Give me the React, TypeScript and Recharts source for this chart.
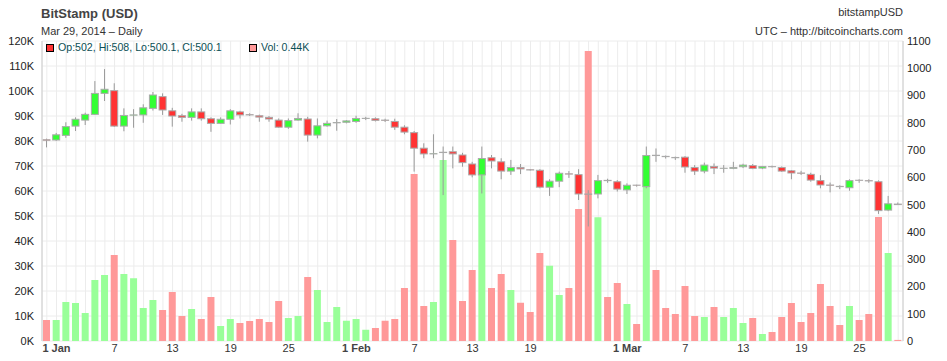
import React from 'react';
import { ComposedChart, Bar, Cell, XAxis, YAxis, CartesianGrid } from 'recharts';

// one row per day, 31 Dec 2013 .. 29 Mar 2014
const days = [
  '12-31',
  '01-01', '01-02', '01-03', '01-04', '01-05', '01-06', '01-07', '01-08', '01-09', '01-10',
  '01-11', '01-12', '01-13', '01-14', '01-15', '01-16', '01-17', '01-18', '01-19', '01-20',
  '01-21', '01-22', '01-23', '01-24', '01-25', '01-26', '01-27', '01-28', '01-29', '01-30', '01-31',
  '02-01', '02-02', '02-03', '02-04', '02-05', '02-06', '02-07', '02-08', '02-09', '02-10',
  '02-11', '02-12', '02-13', '02-14', '02-15', '02-16', '02-17', '02-18', '02-19', '02-20',
  '02-21', '02-22', '02-23', '02-24', '02-25', '02-26', '02-27', '02-28',
  '03-01', '03-02', '03-03', '03-04', '03-05', '03-06', '03-07', '03-08', '03-09', '03-10',
  '03-11', '03-12', '03-13', '03-14', '03-15', '03-16', '03-17', '03-18', '03-19', '03-20',
  '03-21', '03-22', '03-23', '03-24', '03-25', '03-26', '03-27', '03-28', '03-29',
];

const open = [
  738,
  737, 754, 788, 810, 831, 908, 918, 788, 828, 829,
  853, 896, 844, 826, 820, 840, 815, 798, 813, 840,
  830, 826, 820, 810, 784, 810, 814, 755, 789, 800, 802,
  805, 816, 815, 810, 805, 784, 764, 707, 686, 691,
  694, 682, 649, 609, 672, 657, 623, 636, 628, 626,
  564, 586, 613, 610, 539, 539, 589, 584,
  554, 571.5, 566, 681, 677, 673, 674, 636, 623, 640,
  633, 633, 639, 643, 634, 639.5, 636, 624, 616, 611,
  588, 572, 567, 562, 589.5, 588, 584, 480, 502,
];
const high = [
  742,
  763, 802, 820, 837, 953, 997, 945, 853, 850, 868,
  913, 908, 855, 833, 853, 853, 820, 820, 850, 844,
  835, 830, 825, 816, 816, 835, 822, 816, 808, 814, 810,
  826, 822, 820, 815, 815, 791, 770, 725, 758, 713,
  713, 690, 657, 713, 682, 670, 664, 649, 630, 630,
  593, 621, 623, 630, 553, 609, 595, 590,
  578, 573, 713, 706, 680, 676, 678, 645, 654, 651,
  645, 657, 650, 649, 642, 643, 640, 627, 624, 617,
  608, 581, 571, 593, 593, 593, 589, 532, 508,
];
const low = [
  710,
  733, 745, 770, 792, 829, 880, 785, 769, 782, 800,
  845, 829, 786, 804, 808, 808, 767, 796, 794, 816,
  825, 804, 804, 782, 778, 808, 731, 743, 786, 771, 798,
  800, 810, 805, 803, 774, 758, 621, 670, 670, 535,
  633, 639, 600, 541, 633, 593, 609, 612, 625, 560,
  532, 564, 598, 517, 420, 523, 580, 548,
  539, 566, 560, 657, 669, 664, 617, 609, 615, 612,
  617, 630, 634, 630, 630, 636, 620, 593, 609, 584,
  560, 545, 557, 551, 580, 580, 466, 476, 500.1,
];
const close = [
  736,
  756, 786, 813, 831, 908, 923, 788, 827, 829, 855,
  902, 847, 825, 820, 840, 815, 798, 813, 844, 829,
  829, 821, 814, 784, 808, 816, 755, 789, 798, 801, 807,
  816, 816.5, 809, 809, 784, 766, 707, 686, 687, 692,
  686, 654, 609, 669, 660, 623, 636, 631, 627, 564,
  586, 615, 612, 539, 538, 588, 588, 557,
  571, 571, 680, 680, 676, 672, 638, 623, 645, 634,
  633.5, 636, 645, 633, 640, 639, 623, 616, 615, 590,
  572, 571, 566, 588, 589, 587, 478, 503, 500.1,
];
// volume in thousands
const volume = [
  8.4,
  8.4, 15.6, 15.2, 11.2, 24.4, 26.4, 34.4, 26.8, 25.1, 13.2,
  16.4, 12.4, 19.6, 10.0, 12.8, 8.8, 17.6, 6.0, 8.8, 7.2,
  8.0, 8.8, 7.6, 16.0, 9.2, 10.0, 25.6, 20.4, 7.6, 13.6, 8.1,
  8.8, 4.5, 5.2, 8.1, 8.8, 21.2, 66.8, 14.0, 15.6, 72.4,
  40.4, 16.0, 28.4, 68, 21.2, 26.8, 20.4, 15.3, 11.6, 35.2,
  30.1, 18.4, 21.2, 52.8, 116, 49.5, 17.6, 23.2,
  14.8, 6.8, 64, 28.4, 13.2, 10.8, 22.0, 10.0, 9.6, 13.6,
  9.6, 13.2, 7.2, 9.2, 2.8, 3.6, 9.6, 15.2, 7.6, 11.2,
  22.8, 14.0, 6.4, 14.0, 8.4, 10.8, 49.6, 35.2, 0.44,
];

const tickDays = ['01-01', '01-07', '01-13', '01-19', '01-25', '02-01', '02-07', '02-13', '02-19', '03-01', '03-07', '03-13', '03-19', '03-25'];
const tickText = ['1 Jan', '7', '13', '19', '25', '1 Feb', '7', '13', '19', '1 Mar', '7', '13', '19', '25'];
const volTicks = [0, 10, 20, 30, 40, 50, 60, 70, 80, 90, 100, 110, 120];
const priceTicks = [0, 100, 200, 300, 400, 500, 600, 700, 800, 900, 1000, 1100];

const data = days.map((day, i) => ({
  day, open: open[i], high: high[i], low: low[i], close: close[i], vol: volume[i],
}));

const FONT = '"Liberation Sans", Arial, sans-serif';
const UP = '#33ff33', DOWN = '#ff3333', UP_VOL = '#99ff99', DOWN_VOL = '#ff9999';

const Candle = (props: any) => {
  const { x, y, width, height, payload } = props;
  const { open: o, high: h, low: l, close: c } = payload;
  const top = Math.min(y, y + height);
  const span = Math.abs(height);
  const py = (v: number) => top + ((h - v) / (h - l)) * span;
  const cx = x + width / 2;
  const bt = py(Math.max(o, c));
  const bb = py(Math.min(o, c));
  return (
    <g>
      <line x1={cx} x2={cx} y1={top} y2={top + span} stroke="#999" strokeWidth={1} />
      <rect x={x + 1} y={bt} width={width - 2} height={Math.max(bb - bt, 0)}
        fill={c >= o ? UP : DOWN} stroke="#aaa" strokeWidth={1} />
    </g>
  );
};

// only some days get a label, but every day keeps its grid line
const DayTick = (props: any) => {
  const { x, payload } = props;
  const idx = tickDays.indexOf(payload.value);
  if (idx < 0) return null;
  const label = tickText[idx];
  const bold = label.length > 2;
  return (
    <text x={x} y={352} textAnchor="middle" fontSize={11} fontFamily={FONT}
      fontWeight={bold ? 'bold' : 'normal'} fill={bold ? '#444' : '#333'}>
      {label}
    </text>
  );
};

const txt: React.CSSProperties = { position: 'absolute', fontFamily: FONT, fontSize: 11, color: '#333', whiteSpace: 'nowrap', lineHeight: '13px' };

export default function App() {
  return (
    <div style={{ position: 'absolute', left: 0, top: 0, width: 947, height: 361, background: '#fff', overflow: 'hidden' }}>
      <div style={{ ...txt, left: 41, top: 6, fontSize: 13, fontWeight: 'bold', color: '#444', lineHeight: '15px' }}>BitStamp (USD)</div>
      <div style={{ ...txt, left: 41, top: 25 }}>Mar 29, 2014 – Daily</div>
      <div style={{ ...txt, right: 44, top: 6 }}>bitstampUSD</div>
      <div style={{ ...txt, right: 44, top: 25 }}>UTC – http://bitcoincharts.com</div>

      <ComposedChart width={947} height={361} data={data} margin={{ top: 41, right: 0, bottom: 0, left: 0 }}
        style={{ position: 'absolute', left: 0, top: 0 }}>
        <CartesianGrid xAxisId="v" yAxisId="vol" stroke="#ececec" />
        <XAxis xAxisId="v" dataKey="day" interval={0} tick={<DayTick />} tickLine={false} tickSize={0} tickMargin={0}
          axisLine={{ stroke: '#ccc' }} height={20} />
        <XAxis xAxisId="c" dataKey="day" hide />
        <YAxis yAxisId="vol" domain={[0, 120]} ticks={volTicks} width={42} tickLine={false} tickSize={0} tickMargin={8}
          axisLine={{ stroke: '#ccc' }} tickFormatter={(v: number) => `${v}K`}
          tick={{ fontSize: 11, fontFamily: FONT, fill: '#222' }} />
        <YAxis yAxisId="price" orientation="right" domain={[0, 1100]} ticks={priceTicks} width={44} tickLine={false}
          tickSize={0} tickMargin={4} axisLine={{ stroke: '#ccc' }}
          tick={{ fontSize: 11, fontFamily: FONT, fill: '#222', textAnchor: 'start' }} />
        <Bar xAxisId="v" yAxisId="vol" dataKey="vol" barSize={7} isAnimationActive={false}>
          {data.map((d, i) => (
            <Cell key={i} fill={d.close >= d.open ? UP_VOL : DOWN_VOL} />
          ))}
        </Bar>
        <Bar xAxisId="c" yAxisId="price" dataKey={(d: any) => [d.low, d.high]} barSize={9}
          shape={<Candle />} isAnimationActive={false} />
      </ComposedChart>

      <div style={{ position: 'absolute', left: 46, top: 44, width: 6, height: 6, background: DOWN, border: '1px solid #000' }} />
      <div style={{ ...txt, left: 58, top: 41, fontSize: 10.6, color: '#0b4f55' }}>Op:502, Hi:508, Lo:500.1, Cl:500.1</div>
      <div style={{ position: 'absolute', left: 249, top: 44, width: 6, height: 6, background: DOWN_VOL, border: '1px solid #000' }} />
      <div style={{ ...txt, left: 261, top: 41, fontSize: 10.6, color: '#0b4f55' }}>Vol: 0.44K</div>
    </div>
  );
}
